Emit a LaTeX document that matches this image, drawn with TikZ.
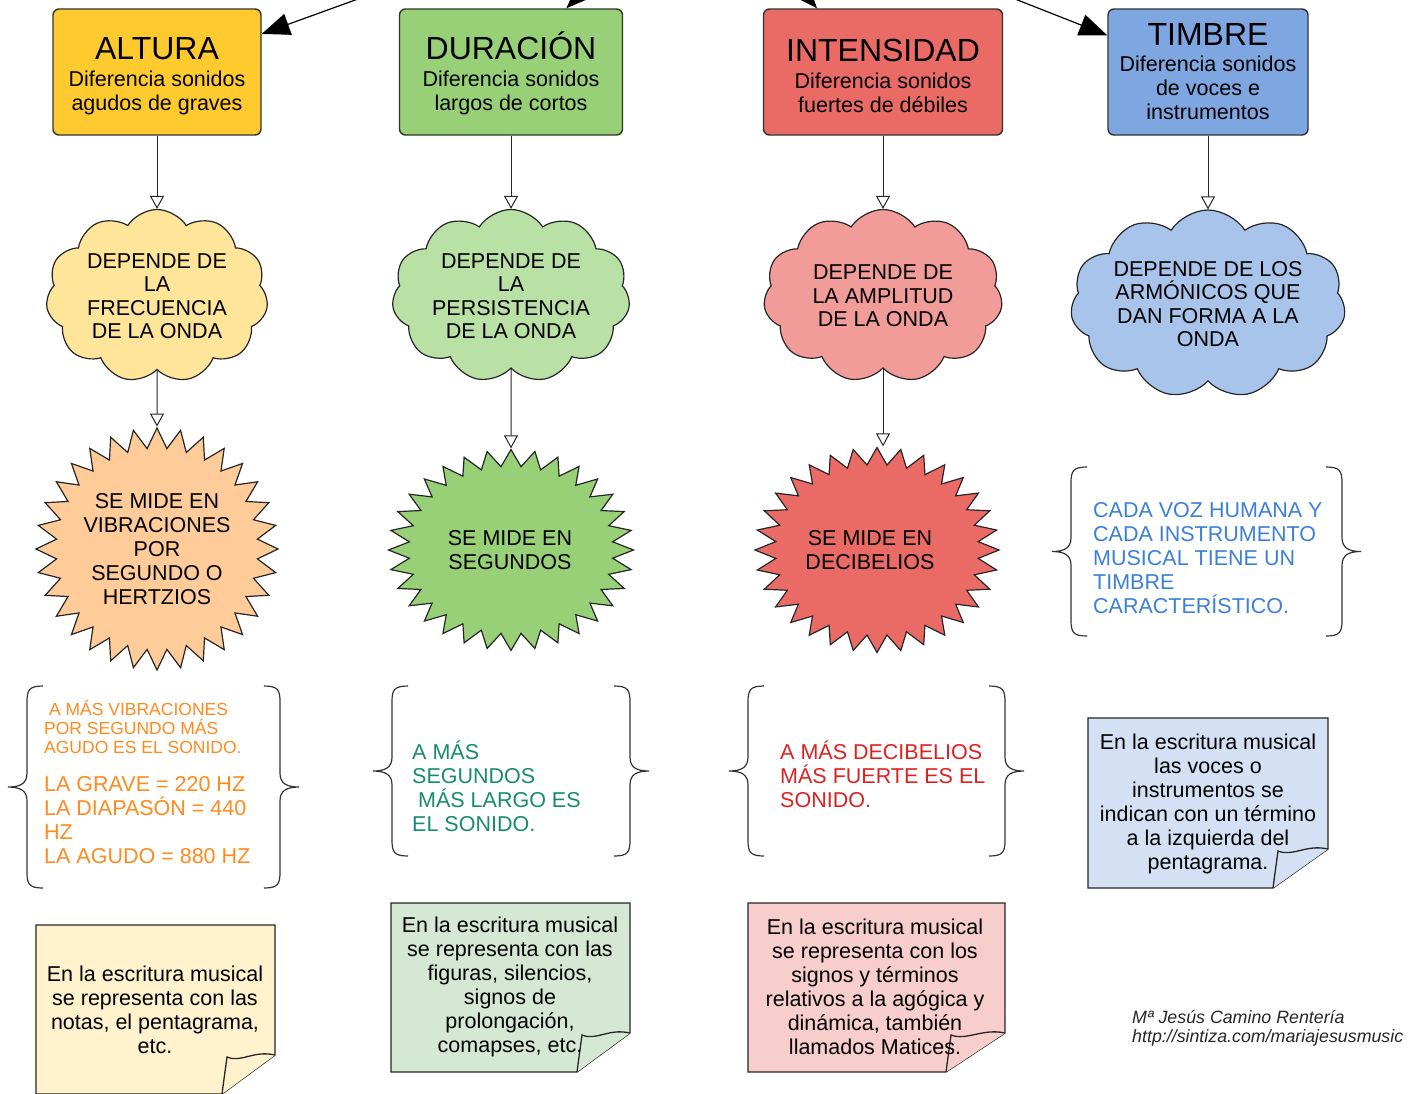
\documentclass[tikz,border=0pt]{standalone}
\usepackage{fontspec}
\setmainfont{Liberation Sans}
\usetikzlibrary{shapes.geometric, shapes.symbols, arrows.meta, positioning}

\definecolor{cajaAlt}{HTML}{FFCA2E}
\definecolor{cajaDur}{HTML}{97D077}
\definecolor{cajaInt}{HTML}{EA6B66}
\definecolor{cajaTim}{HTML}{7EA6E0}
\definecolor{nubeAlt}{HTML}{FFE599}
\definecolor{nubeDur}{HTML}{B9E0A5}
\definecolor{nubeInt}{HTML}{F19C99}
\definecolor{nubeTim}{HTML}{A9C4EB}
\definecolor{estAlt}{HTML}{FFCC99}
\definecolor{notaAlt}{HTML}{FFF2CC}
\definecolor{notaDur}{HTML}{D5E8D4}
\definecolor{notaInt}{HTML}{F8CECC}
\definecolor{notaTim}{HTML}{D4E1F5}
\definecolor{txtNaranja}{HTML}{FF8A1E}
\definecolor{txtVerde}{HTML}{168C6E}
\definecolor{txtRojo}{HTML}{E02020}
\definecolor{txtAzul}{HTML}{3C7FD8}

\tikzset{
  caja/.style={rectangle, rounded corners=6pt, draw=black!80, line width=1.4pt,
    minimum width=#1, minimum height=126pt, align=center, inner sep=2pt,
    font=\fontsize{21.5}{24}\selectfont},
  nube/.style={cloud, cloud puffs=11, cloud puff arc=115, cloud ignores aspect,
    draw=black!85, line width=1.2pt, align=center, inner sep=0pt,
    font=\fontsize{21.5}{23.5}\selectfont},
  estrella/.style={star, star points=32, star point ratio=1.2, draw=black!85,
    line width=1.2pt, inner sep=0pt},
  rotulo/.style={align=center, inner sep=0pt, font=\fontsize{21.5}{24}\selectfont},
  aviso/.style={align=left, anchor=west, inner sep=0pt, font=\fontsize{21.5}{24}\selectfont},
  flecha/.style={draw=black!85, line width=1pt, -{Triangle[open, length=13pt, width=14pt]}},
  flechona/.style={draw=black, line width=1.2pt, -{Triangle[length=28pt, width=22pt]}},
  llave/.style={draw=black!80, line width=1.2pt},
  nota/.style={draw=black!85, line width=1.3pt}
}

\begin{document}
\begin{tikzpicture}[x=1pt, y=-1pt]
\useasboundingbox (0,0) rectangle (1424,1093);
\clip (0,0) rectangle (1424,1093);

% cualidades
\node[caja=208pt, fill=cajaAlt] (alt) at (157,72) {\rule{0pt}{30pt}{\fontsize{32}{24}\selectfont ALTURA}\\[3pt]Diferencia sonidos\\agudos de graves};
\node[caja=223pt, fill=cajaDur] (dur) at (511,72) {\rule{0pt}{30pt}{\fontsize{32}{24}\selectfont DURACIÓN}\\[3pt]Diferencia sonidos\\largos de cortos};
\node[caja=239pt, fill=cajaInt] (int) at (883,72) {\rule{0pt}{30pt}{\fontsize{32}{24}\selectfont INTENSIDAD}\\[3pt]Diferencia sonidos\\fuertes de débiles};
\node[caja=200pt, fill=cajaTim] (tim) at (1208,72) {{\fontsize{32}{24}\selectfont TIMBRE}\\[2pt]Diferencia sonidos\\de voces e\\instrumentos};

\coordinate (origen) at (700,-125);
\draw[flechona] (origen) -- (alt.20);
\draw[flechona] (origen) -- (dur.49);
\draw[flechona] (origen) -- (int.136);
\draw[flechona] (origen) -- (tim.160);

% nubes
\node[nube, fill=nubeAlt, minimum width=222pt, minimum height=173pt] (altNube) at (157,296) {DEPENDE DE\\LA\\FRECUENCIA\\DE LA ONDA};
\node[nube, fill=nubeDur, minimum width=238pt, minimum height=173pt] (durNube) at (511,296) {DEPENDE DE\\LA\\PERSISTENCIA\\DE LA ONDA};
\node[nube, fill=nubeInt, minimum width=239pt, minimum height=173pt] (intNube) at (883,296) {DEPENDE DE\\LA AMPLITUD\\DE LA ONDA};
\node[nube, fill=nubeTim, minimum width=275pt, minimum height=188pt] (timNube) at (1208,304) {DEPENDE DE LOS\\ARMÓNICOS QUE\\DAN FORMA A LA\\ONDA};

\draw[flecha] (alt.south) -- (altNube.north);
\draw[flecha] (dur.south) -- (durNube.north);
\draw[flecha] (int.south) -- (intNube.north);
\draw[flecha] (tim.south) -- (timNube.north);

% estrellas
\node[estrella, fill=estAlt, minimum size=242pt] (altEstrella) at (157,549) {};
\node[estrella, fill=cajaDur, minimum size=245pt, yscale=0.82, transform shape] (durEstrella) at (511,550) {};
\node[estrella, fill=cajaInt, minimum size=244pt, yscale=0.84, transform shape] (intEstrella) at (877,550) {};
\node[rotulo] (altMide) at (157,549) {SE MIDE EN\\VIBRACIONES\\POR\\SEGUNDO O\\HERTZIOS};
\node[rotulo] (durMide) at (510,550) {SE MIDE EN\\SEGUNDOS};
\node[rotulo] (intMide) at (870,550) {SE MIDE EN\\DECIBELIOS};

\draw[flecha] (altNube.south) -- (altEstrella.north);
\draw[flecha] (durNube.south) -- (durEstrella.north);
\draw[flecha] (intNube.south) -- (intNube.south |- intEstrella.north);

% llaves
\foreach \L/\R/\yt/\yb in {27/280/686/888, 392/630/686/856, 748/1005/686/856, 1071/1342/467/636}{
  \pgfmathsetmacro{\ym}{(\yt+\yb)/2}
  \draw[llave] (\L+16,\yt) .. controls (\L+2,\yt) and (\L,\yt+4) .. (\L,\yt+16) -- (\L,\ym-14)
    .. controls (\L,\ym-4) and (\L-6,\ym) .. (\L-19,\ym) .. controls (\L-6,\ym) and (\L,\ym+4) .. (\L,\ym+14)
    -- (\L,\yb-16) .. controls (\L,\yb-4) and (\L+2,\yb) .. (\L+16,\yb);
  \draw[llave] (\R-16,\yt) .. controls (\R-2,\yt) and (\R,\yt+4) .. (\R,\yt+16) -- (\R,\ym-14)
    .. controls (\R,\ym-4) and (\R+6,\ym) .. (\R+19,\ym) .. controls (\R+6,\ym) and (\R,\ym+4) .. (\R,\ym+14)
    -- (\R,\yb-16) .. controls (\R,\yb-4) and (\R-2,\yb) .. (\R-16,\yb);
}
\node[aviso, text=txtNaranja, font=\fontsize{17.5}{19}\selectfont] (altRegla) at (44,727) {\ A MÁS VIBRACIONES\\POR SEGUNDO MÁS\\AGUDO ES EL SONIDO.};
\node[aviso, text=txtNaranja] (altHz) at (44,820) {LA GRAVE = 220 HZ\\LA DIAPASÓN = 440\\HZ\\LA AGUDO = 880 HZ};
\node[aviso, text=txtVerde] (durRegla) at (412,786) {A MÁS\\SEGUNDOS\\\ MÁS LARGO ES\\EL SONIDO.};
\node[aviso, text=txtRojo] (intRegla) at (780,774) {A MÁS DECIBELIOS\\MÁS FUERTE ES EL\\SONIDO.};
\node[aviso, text=txtAzul] (timRegla) at (1093,558) {CADA VOZ HUMANA Y\\CADA INSTRUMENTO\\MUSICAL TIENE UN\\TIMBRE\\CARACTERÍSTICO.};

% notas
\foreach \xl/\yt/\xr/\yb/\fw/\col in {36/925/275/1094/53/notaAlt, 391/903/630/1072/53/notaDur, 748/903/1005/1072/59/notaInt, 1088/718/1328/888/55/notaTim}{
  \filldraw[nota, fill=\col] (\xl,\yt) -- (\xr,\yt) -- (\xr,\yb-39) -- (\xr-\fw,\yb) -- (\xl,\yb) -- cycle;
  \filldraw[nota, fill=\col] (\xr-\fw,\yb) .. controls (\xr-\fw+2,\yb-15) .. (\xr-\fw+5,\yb-37)
    .. controls (\xr-\fw+20,\yb-31) and (\xr-22,\yb-44) .. (\xr,\yb-39);
}
\node[rotulo] (altNota) at (155,1010) {En la escritura musical\\se representa con las\\notas, el pentagrama,\\etc.};
\node[rotulo] (durNota) at (510,987) {En la escritura musical\\se representa con las\\figuras, silencios,\\signos de\\prolongación,\\comapses, etc.};
\node[rotulo] (intNota) at (875,987) {En la escritura musical\\se representa con los\\signos y términos\\relativos a la agógica y\\dinámica, también\\llamados Matices.};
\node[rotulo] (timNota) at (1208,804) {En la escritura musical\\las voces o\\instrumentos se\\indican con un término\\a la izquierda del\\pentagrama.};

\node[aviso, text=black!85, font=\fontsize{17.8}{19}\selectfont\itshape] (autora) at (1132,1028) {Mª Jesús Camino Rentería\\http://sintiza.com/mariajesusmusic};

\end{tikzpicture}
\end{document}
